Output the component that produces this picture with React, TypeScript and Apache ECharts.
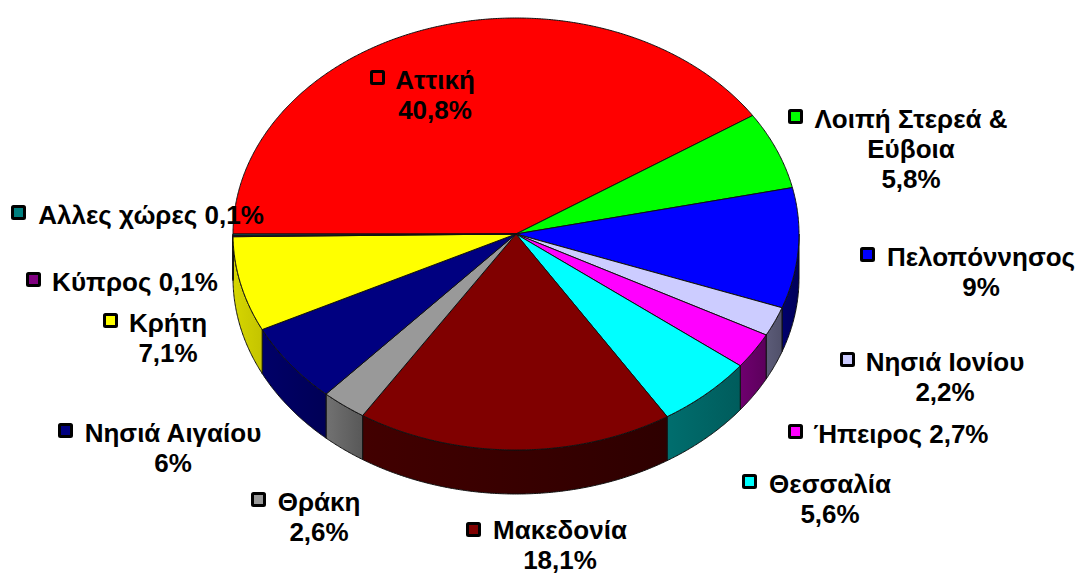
import React, { useEffect, useRef } from "react";
import * as echarts from "echarts";

const names = ["Αττική", "Λοιπή Στερεά &\nΕύβοια", "Πελοπόννησος", "Νησιά Ιονίου", "Ήπειρος", "Θεσσαλία", "Μακεδονία", "Θράκη", "Νησιά Αιγαίου", "Κρήτη", "Κύπρος", "Αλλες χώρες"];
const values = [40.8, 5.8, 9, 2.2, 2.7, 5.6, 18.1, 2.6, 6, 7.1, 0.1, 0.1];
const inlinePercent = [false, false, false, false, true, false, false, false, false, false, true, true];
const topColors = ["#ff0000", "#00ff00", "#0000ff", "#ccccff", "#ff00ff", "#00ffff", "#800000", "#999999", "#000080", "#ffff00", "#800080", "#008080"];
const wallFrom = ["#800000", "#008000", "#00006e", "#5c5c78", "#6e006e", "#006e6e", "#420000", "#727272", "#000068", "#d6d600", "#400040", "#004040"];
const wallTo = ["#800000", "#008000", "#000058", "#50506a", "#5c005c", "#005c5c", "#2e0000", "#585858", "#000056", "#c4c400", "#400040", "#004040"];
const keyX = [371, 789, 861, 841, 789, 743, 467, 252, 59, 104, 27, 12];
const keyY = [71, 110, 248, 353, 425, 475, 523, 493, 424, 314, 273, 206];
const textX = [435, 911, 981, 945, 901, 830, 560, 319, 173, 168, 135, 151];
const textY = [80, 119, 257, 362, 434, 484, 530, 502, 433, 323, 282, 215];

const CX = 516, CY = 234, RX = 283, RY = 216, DEPTH = 44;
const FONT = "Liberation Sans, Arial, sans-serif";
const LINE = 30;

const total = values.reduce((a, b) => a + b, 0);
const edges: number[] = [];
{
  let acc = 0;
  for (const v of values) { edges.push(acc); acc += v; }
  edges.push(acc);
}
// Angle measured clockwise on screen, with 0 at the left end of the ellipse.
const angleAt = (share: number) => Math.PI + (share / total) * 2 * Math.PI;
const ptx = (t: number) => CX + RX * Math.cos(t);
const pty = (t: number, dz = 0) => CY + RY * Math.sin(t) + dz;

function arc(t0: number, t1: number, dz = 0): number[][] {
  const n = Math.max(2, Math.ceil(Math.abs(t1 - t0) / 0.006));
  const out: number[][] = [];
  for (let i = 0; i <= n; i++) {
    const t = t0 + ((t1 - t0) * i) / n;
    out.push([ptx(t), pty(t, dz)]);
  }
  return out;
}

const renderTop = (params: any) => {
  const i = params.dataIndex;
  const t0 = angleAt(edges[i]);
  const t1 = angleAt(edges[i + 1]);
  return {
    type: "polygon",
    shape: { points: [[CX, CY], ...arc(t0, t1)] },
    style: { fill: topColors[i], stroke: "#111", lineWidth: 1, lineJoin: "round" },
  };
};

const renderWall = (params: any) => {
  const i = params.dataIndex;
  const full = 2 * Math.PI;
  const t0 = angleAt(edges[i]);
  const t1 = angleAt(edges[i + 1]);
  // front half of the ellipse is where sin(t) > 0: t in [2PI, 3PI]
  const a = Math.max(t0, full);
  const b = Math.min(t1, full + Math.PI);
  if (b <= a) return null;
  const top = arc(a, b);
  const bottom = arc(b, a, DEPTH);
  return {
    type: "polygon",
    shape: { points: [...top, ...bottom] },
    style: {
      fill: new echarts.graphic.LinearGradient(0, 0, 1, 0, [
        { offset: 0, color: wallFrom[i] },
        { offset: 1, color: wallTo[i] },
      ]),
      stroke: "#111",
      lineWidth: 1,
      lineJoin: "round",
    },
  };
};

const percent = (v: number) => String(v).replace(".", ",") + "%";

function labelElements() {
  const els: any[] = [];
  names.forEach((name, i) => {
    els.push({
      type: "rect",
      z: 10,
      shape: { x: keyX[i] + 0.5, y: keyY[i] + 0.5, width: 12, height: 12, r: 1 },
      style: { fill: topColors[i], stroke: "#000", lineWidth: 3 },
    });
    const text = name + (inlinePercent[i] ? " " : "\n") + percent(values[i]);
    els.push({
      type: "text",
      z: 11,
      x: textX[i],
      y: textY[i] - LINE / 2,
      style: {
        text,
        fill: "#000",
        font: `bold 26px ${FONT}`,
        lineHeight: LINE,
        align: "center",
        verticalAlign: "top",
        width: 300,
      },
      silent: true,
    });
  });
  return els;
}

export default function App() {
  const ref = useRef<HTMLDivElement>(null);
  useEffect(() => {
    const chart = echarts.init(ref.current!, undefined, { renderer: "svg" });
    chart.setOption({
      animation: false,
      backgroundColor: "#ffffff",
      tooltip: { show: false },
      graphic: { elements: labelElements() },
      series: [
        { type: "custom", coordinateSystem: "none", z: 1, data: values, renderItem: renderWall, silent: true, clip: false },
        { type: "custom", coordinateSystem: "none", z: 2, data: values, renderItem: renderTop, silent: true, clip: false },
      ],
    });
    return () => chart.dispose();
  }, []);
  return <div ref={ref} style={{ position: "absolute", left: 0, top: 0, width: 1078, height: 574 }} />;
}
